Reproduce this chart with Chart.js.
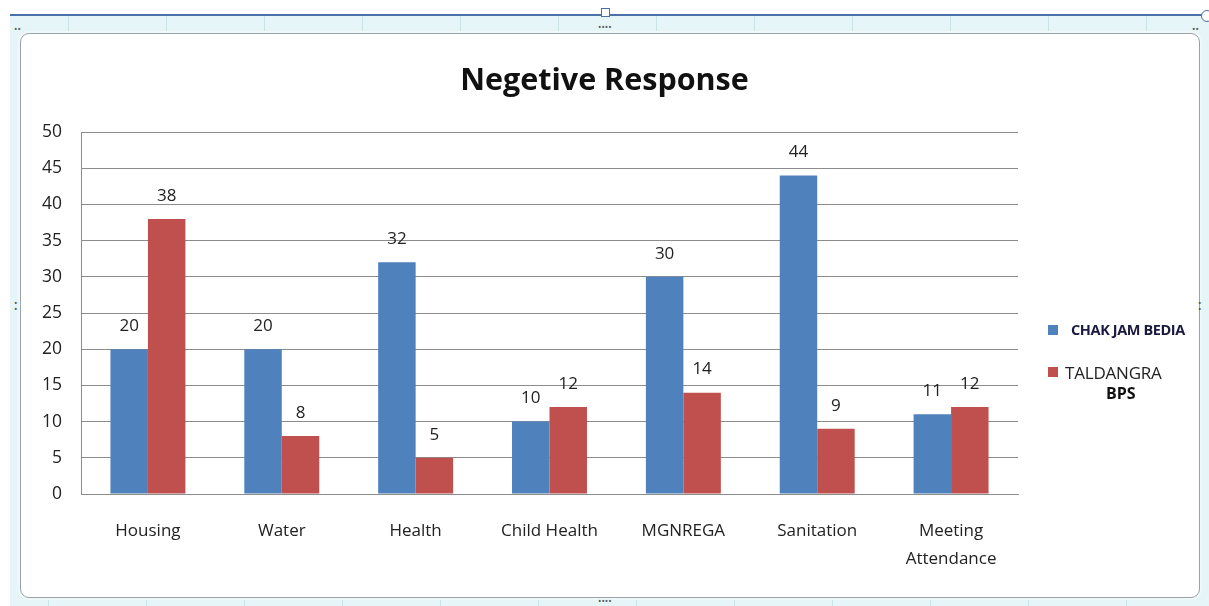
<!DOCTYPE html>
<html>
<head>
<meta charset="utf-8">
<script src="https://cdn.jsdelivr.net/npm/chart.js@4/dist/chart.umd.min.js"></script>
<style>
  html, body { margin: 0; padding: 0; background: #ffffff; }
  #stage { position: relative; width: 1209px; height: 606px; overflow: hidden; font-family: "Open Sans", "Noto Sans", sans-serif; }
  .band { position: absolute; background: #e6f5f7; }
  .topline { position: absolute; left: 10px; top: 14px; width: 1193px; height: 2px; background: #4a72a8; }
  .vcell { position: absolute; width: 1px; background: #c9e3e7; }
  #frame { position: absolute; left: 20px; top: 33px; width: 1178px; height: 563px; border: 1px solid #9aa3a8; border-radius: 9px; background: #ffffff; box-shadow: 0 0 0 2px #eef8f9; }
  #chartBox { position: absolute; left: 0; top: 0; width: 1209px; height: 606px; }
  .title { position: absolute; left: 0; width: 1209px; top: 56px; text-align: center; font-weight: 700; font-size: 30.5px; color: #111; line-height: 44px; }
  .lg { position: absolute; color: #111; white-space: nowrap; }
  .sw { position: absolute; width: 10px; height: 10px; }
  .dots { position: absolute; color: #555; font-size: 9px; line-height: 6px; }
  .handle { position: absolute; width: 7px; height: 7px; border: 1px solid #4a72a8; background: #fff; }
  .ring { position: absolute; width: 10px; height: 10px; border: 1px solid #4a72a8; border-radius: 50%; background: #fff; }
</style>
</head>
<body>
<div id="stage">
  <div class="band" style="left:10px;top:16px;width:1199px;height:590px;"></div>
  <div class="vcell" style="left:68px;top:16px;height:17px;"></div>
  <div class="vcell" style="left:166px;top:16px;height:17px;"></div>
  <div class="vcell" style="left:264px;top:16px;height:17px;"></div>
  <div class="vcell" style="left:362px;top:16px;height:17px;"></div>
  <div class="vcell" style="left:460px;top:16px;height:17px;"></div>
  <div class="vcell" style="left:558px;top:16px;height:17px;"></div>
  <div class="vcell" style="left:656px;top:16px;height:17px;"></div>
  <div class="vcell" style="left:754px;top:16px;height:17px;"></div>
  <div class="vcell" style="left:852px;top:16px;height:17px;"></div>
  <div class="vcell" style="left:950px;top:16px;height:17px;"></div>
  <div class="vcell" style="left:1048px;top:16px;height:17px;"></div>
  <div class="vcell" style="left:1146px;top:16px;height:17px;"></div>
  <div class="vcell" style="left:48px;top:598px;height:8px;"></div>
  <div class="vcell" style="left:146px;top:598px;height:8px;"></div>
  <div class="vcell" style="left:244px;top:598px;height:8px;"></div>
  <div class="vcell" style="left:342px;top:598px;height:8px;"></div>
  <div class="vcell" style="left:440px;top:598px;height:8px;"></div>
  <div class="vcell" style="left:538px;top:598px;height:8px;"></div>
  <div class="vcell" style="left:636px;top:598px;height:8px;"></div>
  <div class="vcell" style="left:734px;top:598px;height:8px;"></div>
  <div class="vcell" style="left:832px;top:598px;height:8px;"></div>
  <div class="vcell" style="left:930px;top:598px;height:8px;"></div>
  <div class="vcell" style="left:1028px;top:598px;height:8px;"></div>
  <div class="vcell" style="left:1126px;top:598px;height:8px;"></div>
  <div class="topline"></div>
  <div id="frame"></div>
  <div class="handle" style="left:601px;top:8px;"></div>
  <div class="ring" style="left:1201px;top:10px;"></div>
  <div class="dots" style="left:598px;top:24px;">&#8226;&#8226;&#8226;&#8226;</div>
  <div class="dots" style="left:598px;top:598px;">&#8226;&#8226;&#8226;&#8226;</div>
  <div class="dots" style="left:14px;top:26px;">&#8226;&#8226;</div>
  <div class="dots" style="left:1192px;top:26px;">&#8226;&#8226;</div>
  <div class="dots" style="left:14px;top:300px;">&#8226;<br>&#8226;</div>
  <div class="dots" style="left:1198px;top:300px;">&#8226;<br>&#8226;</div>
  <div id="chartBox"><canvas id="chart"></canvas></div>
  <div class="title">Negetive Response</div>
  <div class="sw" style="left:1048px;top:325px;background:#4F81BD;"></div>
  <div class="lg" style="left:1071px;top:320px;font-size:14.5px;font-weight:700;line-height:20px;letter-spacing:-0.4px;color:#1a1a40;">CHAK JAM BEDIA</div>
  <div class="sw" style="left:1048px;top:367px;background:#C0504D;"></div>
  <div class="lg" style="left:1065px;top:362px;font-size:17px;line-height:22px;color:#222;letter-spacing:-0.2px;">TALDANGRA</div>
  <div class="lg" style="left:1106px;top:383px;font-size:16px;font-weight:700;line-height:20px;">BPS</div>
</div>
<script>
// Categories and the two survey series
const categories = ['Housing', 'Water', 'Health', 'Child Health', 'MGNREGA', 'Sanitation', ['Meeting', 'Attendance']];
const chakJamBedia = [20, 20, 32, 10, 30, 44, 11];
const taldangraBps = [38, 8, 5, 12, 14, 9, 12];
const seriesNames = ['CHAK JAM BEDIA', 'TALDANGRA BPS'];
const yTicks = { min: 0, max: 50, step: 5 };

const fontFamily = '"Open Sans", "Noto Sans", sans-serif';

// Writes each bar's value above it
const valueLabels = {
  id: 'valueLabels',
  afterDatasetsDraw(chart) {
    const ctx = chart.ctx;
    ctx.save();
    ctx.font = '17px ' + fontFamily;
    ctx.fillStyle = '#222';
    ctx.textAlign = 'center';
    ctx.textBaseline = 'middle';
    chart.data.datasets.forEach((ds, i) => {
      const meta = chart.getDatasetMeta(i);
      meta.data.forEach((bar, j) => {
        ctx.fillText(String(ds.data[j]), bar.x, bar.y - 23);
      });
    });
    ctx.restore();
  }
};

new Chart(document.getElementById('chart'), {
  type: 'bar',
  data: {
    labels: categories,
    datasets: [
      { label: seriesNames[0], data: chakJamBedia, backgroundColor: '#4F81BD' },
      { label: seriesNames[1], data: taldangraBps, backgroundColor: '#C0504D' }
    ]
  },
  options: {
    responsive: true,
    maintainAspectRatio: false,
    animation: false,
    layout: { padding: { left: 30, right: 191, top: 132, bottom: 0 } },
    datasets: { bar: { categoryPercentage: 0.56, barPercentage: 1.0 } },
    plugins: {
      legend: { display: false },
      title: { display: false },
      tooltip: { enabled: false }
    },
    scales: {
      x: {
        grid: { display: false, drawTicks: false },
        border: { display: true, color: '#8c8c8c', width: 1 },
        ticks: {
          color: '#222',
          font: { family: fontFamily, size: 17, lineHeight: 1.65 },
          padding: 23,
          maxRotation: 0,
          autoSkip: false
        },
        afterFit(scale) { scale.height = 112; }
      },
      y: {
        min: yTicks.min,
        max: yTicks.max,
        grid: { color: '#8c8c8c', lineWidth: 1, drawTicks: false },
        border: { display: true, color: '#8c8c8c', width: 1 },
        ticks: {
          stepSize: yTicks.step,
          color: '#222',
          font: { family: fontFamily, size: 17.5 },
          padding: 19
        },
        afterFit(scale) { scale.width = 51; }
      }
    }
  },
  plugins: [valueLabels]
});
</script>
</body>
</html>
